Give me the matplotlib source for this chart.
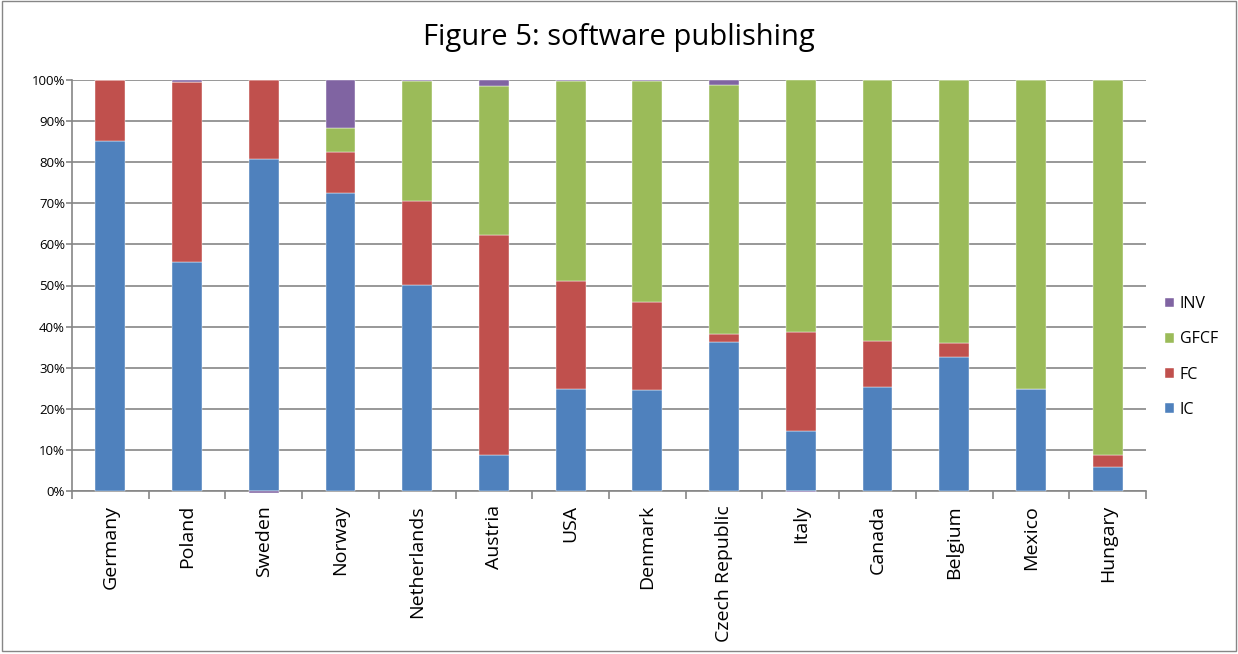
import numpy as np
import matplotlib
matplotlib.use("Agg")
import matplotlib.pyplot as plt
from matplotlib.patches import Rectangle

countries = ["Germany", "Poland", "Sweden", "Norway", "Netherlands", "Austria", "USA",
             "Denmark", "Czech Republic", "Italy", "Canada", "Belgium", "Mexico", "Hungary"]

# shares in percent
ic = [85.2, 55.7, 80.8, 72.5, 50.1, 8.8, 24.8, 24.6, 36.3, 14.6, 25.3, 32.6, 24.9, 5.8]
fc = [14.8, 43.8, 19.2, 10.0, 20.5, 53.5, 26.3, 21.4, 2.0, 24.2, 11.1, 3.3, 0.0, 3.0]
gfcf = [0.0, 0.0, 0.0, 5.8, 29.1, 36.3, 48.6, 53.7, 60.5, 61.2, 63.6, 64.1, 75.1, 91.2]
inv = [0.0, 0.5, -0.4, 11.7, 0.3, 1.4, 0.3, 0.3, 1.2, -0.3, 0.0, 0.0, 0.0, 0.0]

series = [("IC", ic, "#4F81BD"), ("FC", fc, "#C0504D"),
          ("GFCF", gfcf, "#9BBB59"), ("INV", inv, "#8064A2")]

plt.rcParams['font.family'] = ['Open Sans', 'DejaVu Sans']

fig = plt.figure(figsize=(12.38, 6.54), dpi=100)
ax = fig.add_axes([72 / 1238, 1 - 491 / 654, (1146 - 72) / 1238, (491 - 80) / 654])

x = np.arange(len(countries))
pos_bottom = np.zeros(len(countries))
neg_bottom = np.zeros(len(countries))
handles = []
for name, vals, color in series:
    vals = np.array(vals)
    bottom = np.where(vals >= 0, pos_bottom, neg_bottom)
    bars = ax.bar(x, vals, 0.39, bottom=bottom, color=color, label=name, zorder=3,
                  edgecolor="white", linewidth=0.3)
    for b in bars:
        b.set_clip_on(False)
    pos_bottom += np.where(vals >= 0, vals, 0)
    neg_bottom += np.where(vals < 0, vals, 0)
    handles.append(bars)

ax.set_xlim(-0.5, len(countries) - 0.5)
ax.set_ylim(0, 100)
ax.set_yticks(np.arange(0, 101, 10))
ax.set_yticklabels([f"{v}%" for v in range(0, 101, 10)], fontsize=9.5)
ax.yaxis.grid(True, color="#868686", linewidth=1.2, zorder=0)
ax.set_axisbelow(True)

ax.set_xticks(x)
ax.set_xticklabels(countries, rotation=90, fontsize=14)
ax.tick_params(axis="x", length=0, pad=10)
ax.set_xticks(np.arange(-0.5, len(countries), 1), minor=True)
ax.tick_params(axis="x", which="minor", length=6, color="#868686", width=1.2)
ax.tick_params(axis="y", length=4, color="#868686", width=1.2, pad=1)

for s in ["top", "right"]:
    ax.spines[s].set_visible(False)
for s in ["left", "bottom"]:
    ax.spines[s].set_color("#868686")
    ax.spines[s].set_linewidth(1.2)

fig.text(0.5, 1 - 37 / 654, "Figure 5: software publishing", ha="center", va="center", fontsize=21)

leg = fig.legend(handles[::-1], [s[0] for s in series][::-1], loc="center left",
                 bbox_to_anchor=(1160 / 1238, 1 - 357 / 654), frameon=False, fontsize=11.5,
                 handlelength=0.55, handleheight=0.55, labelspacing=1.2, handletextpad=0.4,
                 borderaxespad=0, borderpad=0.3)

fig.patches.append(Rectangle((0.002, 0.004), 0.996, 0.994, transform=fig.transFigure,
                             fill=False, edgecolor="#868686", linewidth=1))

fig.savefig("out.png", dpi=100)
